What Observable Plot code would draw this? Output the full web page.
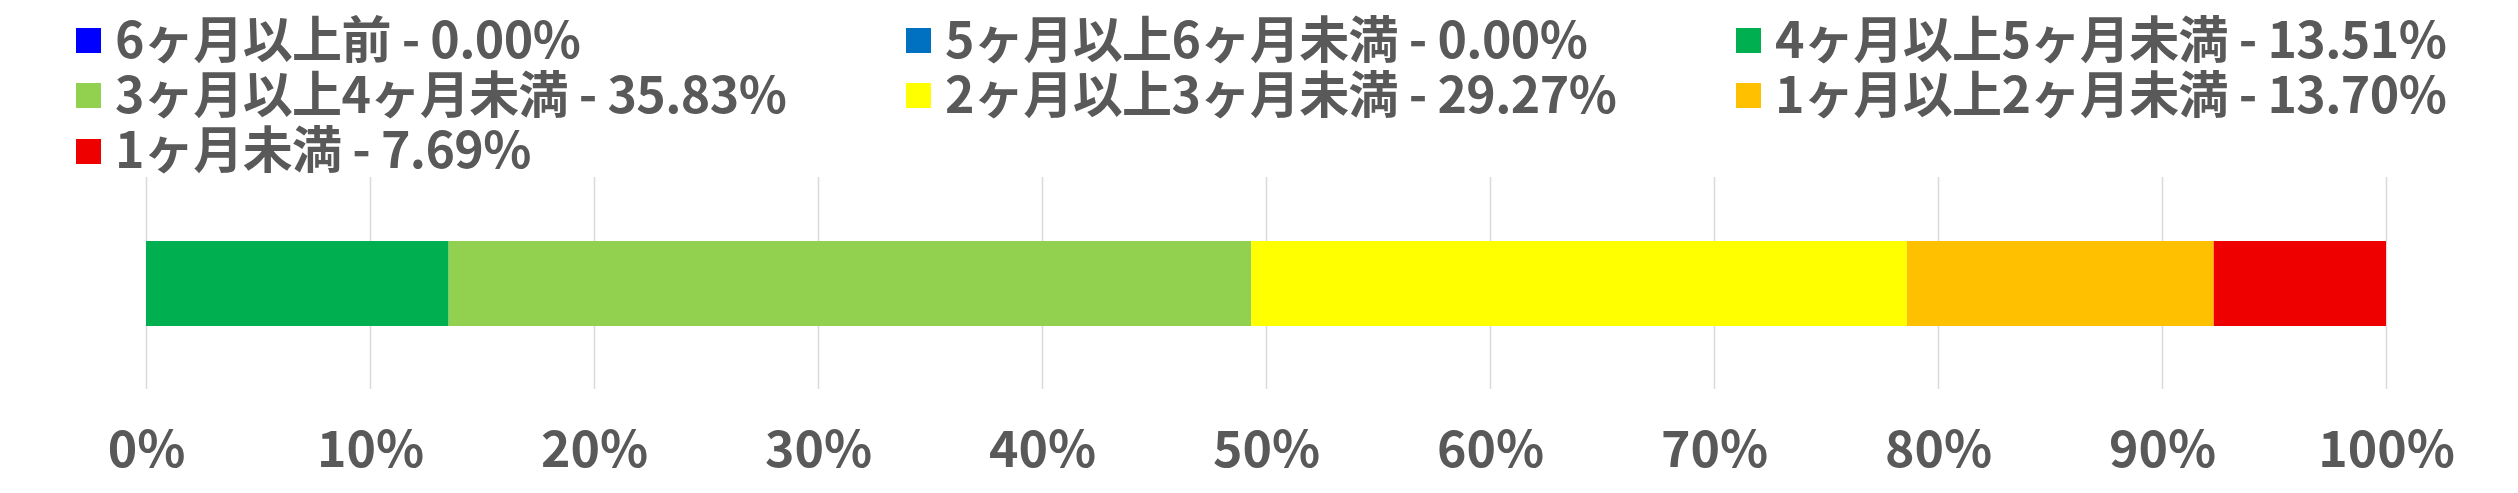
<!DOCTYPE html>
<html>
<head>
<meta charset="utf-8">
<script src="https://cdn.jsdelivr.net/npm/d3@7"></script>
<script src="https://cdn.jsdelivr.net/npm/@observablehq/plot@0.6"></script>
<style>
  html, body { margin: 0; padding: 0; background: #ffffff; }
  body { width: 2518px; height: 493px; overflow: hidden; font-family: "Noto Sans CJK JP", "Noto Sans", sans-serif; }
  #legend { position: relative; height: 177px; }
  #legend .grid { position: absolute; left: 76px; top: 13px; display: grid; grid-template-columns: repeat(3, 830px); grid-auto-rows: 55.25px; }
  #legend .item { display: flex; align-items: center; font-size: 50px; font-weight: 700; color: #595959; white-space: nowrap; line-height: 50px; height: 55.25px; }
  #legend .sw { width: 25px; height: 25px; margin-right: 14px; flex: none; }
  #legend .txt { position: relative; top: -5px; letter-spacing: -0.6px; }
  #chart svg { display: block; }
</style>
</head>
<body>
<div id="legend"><div class="grid"></div></div>
<div id="chart"></div>
<script>
const categories = ["6ヶ月以上前", "5ヶ月以上6ヶ月未満", "4ヶ月以上5ヶ月未満", "3ヶ月以上4ヶ月未満", "2ヶ月以上3ヶ月未満", "1ヶ月以上2ヶ月未満", "1ヶ月未満"];
const values = [0.00, 0.00, 13.51, 35.83, 29.27, 13.70, 7.69];
const colors = ["#0000FF", "#0070C0", "#00B050", "#92D050", "#FFFF00", "#FFC000", "#EE0000"];
const tickValues = [0, 10, 20, 30, 40, 50, 60, 70, 80, 90, 100];
const tickLabels = ["0%", "10%", "20%", "30%", "40%", "50%", "60%", "70%", "80%", "90%", "100%"];

const data = categories.map((c, i) => ({category: c, value: values[i], row: "all"}));

// legend
const grid = document.querySelector("#legend .grid");
categories.forEach((c, i) => {
  const item = document.createElement("div");
  item.className = "item";
  const sw = document.createElement("span");
  sw.className = "sw";
  sw.style.background = colors[i];
  const t = document.createElement("span");
  t.className = "txt";
  t.textContent = `${c} - ${values[i].toFixed(2)}%`;
  item.appendChild(sw);
  item.appendChild(t);
  grid.appendChild(item);
});

const chart = Plot.plot({
  width: 2518,
  height: 316,
  marginLeft: 146,
  marginRight: 132,
  marginTop: 0,
  marginBottom: 104,
  style: {fontFamily: '"Noto Sans CJK JP", "Noto Sans", sans-serif', background: "#ffffff"},
  x: {domain: [0, 100]},
  y: {domain: ["all"], padding: 0.4276, axis: null},
  color: {domain: categories, range: colors},
  marks: [
    Plot.gridX(tickValues, {stroke: "#d9d9d9", strokeOpacity: 1, strokeWidth: 1.5}),
    Plot.barX(data, Plot.stackX({x: "value", y: "row", fill: "category", order: categories})),
    Plot.axisX(tickValues, {
      tickSize: 0,
      tickPadding: 42,
      tickFormat: (d) => tickLabels[tickValues.indexOf(d)],
      fontSize: 50,
      fontWeight: 700,
      fill: "#595959",
      label: null
    })
  ]
});
document.getElementById("chart").appendChild(chart);
</script>
</body>
</html>
